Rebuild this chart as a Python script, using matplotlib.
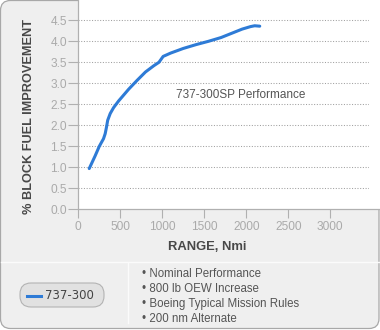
import matplotlib
matplotlib.use("Agg")
import matplotlib.pyplot as plt
from matplotlib.patches import FancyBboxPatch, Rectangle
from matplotlib.lines import Line2D

# ---- data ----
ranges = [130, 200, 250, 300, 320, 335, 350, 380, 420, 480, 600, 700, 800,
          900, 960, 1010, 1100, 1250, 1400, 1550, 1700, 1850, 1950, 2050,
          2100, 2160]
improvement = [0.97, 1.27, 1.50, 1.68, 1.80, 1.95, 2.12, 2.28, 2.42, 2.58,
               2.86, 3.07, 3.27, 3.42, 3.50, 3.64, 3.72, 3.83, 3.92, 4.00,
               4.09, 4.21, 4.29, 4.35, 4.37, 4.36]
x_ticks = [0, 500, 1000, 1500, 2000, 2500, 3000]
y_ticks = [0.0, 0.5, 1.0, 1.5, 2.0, 2.5, 3.0, 3.5, 4.0, 4.5]
series_name = "737-300"
annotation = "737-300SP Performance"
notes = ["• Nominal Performance", "• 800 lb OEW Increase",
         "• Boeing Typical Mission Rules", "• 200 nm Alternate"]
x_label = "RANGE, Nmi"
y_label = "% BLOCK FUEL IMPROVEMENT"

plt.rcParams['font.family'] = ['Liberation Sans', 'DejaVu Sans']

W, H = 380, 330
fig = plt.figure(figsize=(W / 100, H / 100), dpi=100)
fig.patch.set_facecolor('white')

# background canvas in pixel coordinates
bg = fig.add_axes([0, 0, 1, 1])
bg.set_xlim(0, W)
bg.set_ylim(H, 0)
bg.axis('off')
bg.set_zorder(0)

bg.add_patch(FancyBboxPatch((0.5, 0.5), W - 1.5, H - 2.0,
                            boxstyle="round,pad=0,rounding_size=10",
                            facecolor='#efefef', edgecolor='#a8a8a8', lw=0.9))
bg.add_patch(Rectangle((78.5, 0), W - 78.5, 209.3, facecolor='white',
                       edgecolor='none'))
bg.add_line(Line2D([78.3, 379], [209.3, 209.3], color='#b0b0b0', lw=0.9))
bg.add_line(Line2D([1, 379], [262, 262], color='#fbfbfb', lw=1.0))
bg.add_line(Line2D([127.7, 127.7], [263, 323], color='#fbfbfb', lw=1.0))

# legend pill
bg.add_patch(FancyBboxPatch((20, 283), 84, 24,
                            boxstyle="round,pad=0,rounding_size=11",
                            facecolor='#e1e1e1', edgecolor='#b3b3b3', lw=0.8))
bg.add_line(Line2D([26.5, 40.5], [295.5, 295.5], color='#2e7bd6', lw=2.2))
bg.text(45.5, 295.5, series_name, fontsize=8.5, color='#444444',
        family=['DejaVu Sans'], va='center', ha='left')

for i, line in enumerate(notes):
    bg.text(142.5, 274 + i * 15.0, line, fontsize=8.3, color='#555555',
            va='center', ha='left')

# axis labels
bg.text(29.3, 116.7, y_label, rotation=90, fontsize=9.2, fontweight='bold',
        color='#484848', ha='center', va='center')
bg.text(207, 246.5, x_label, fontsize=9.4, fontweight='bold',
        color='#484848', ha='center', va='center')
bg.text(175.5, 95, annotation, fontsize=8.5, color='#555555',
        ha='left', va='center')

# main axes
left_px, right_px, bottom_px = 78.3, 369.0, 209.3
ax = fig.add_axes([left_px / W, 1 - bottom_px / H,
                   (right_px - left_px) / W, bottom_px / H])
ax.set_zorder(1)
ax.patch.set_alpha(0)
px_per_nmi = 42.0 / 500
px_per_val = 42.0
ax.set_xlim(0, (right_px - left_px) / px_per_nmi)
ax.set_ylim(0, bottom_px / px_per_val)

ax.plot(ranges, improvement, color='#2e7bd6', lw=2.2,
        solid_capstyle='round', solid_joinstyle='round', zorder=3)

ax.set_xticks(x_ticks)
ax.set_xticklabels([str(t) for t in x_ticks])
ax.set_yticks(y_ticks)
ax.set_yticklabels([f"{t:.1f}" for t in y_ticks])

for s in ['top', 'right', 'bottom']:
    ax.spines[s].set_visible(False)
ax.spines['left'].set_color('#b0b0b0')
ax.spines['left'].set_linewidth(0.9)

ax.tick_params(axis='y', direction='out', length=7.2, width=0.8,
               color='#b0b0b0', labelcolor='#aaaaaa', labelsize=8.6, pad=1.0)
ax.tick_params(axis='x', direction='out', length=6.5, width=0.8,
               color='#b0b0b0', labelcolor='#aaaaaa', labelsize=8.6, pad=2.0)

for t in y_ticks[1:]:
    ax.axhline(t, color='#a0a0a0', lw=0.75, linestyle=(0, (1, 1.6)), zorder=1)

fig.savefig('out.png', dpi=100, facecolor=fig.get_facecolor())
